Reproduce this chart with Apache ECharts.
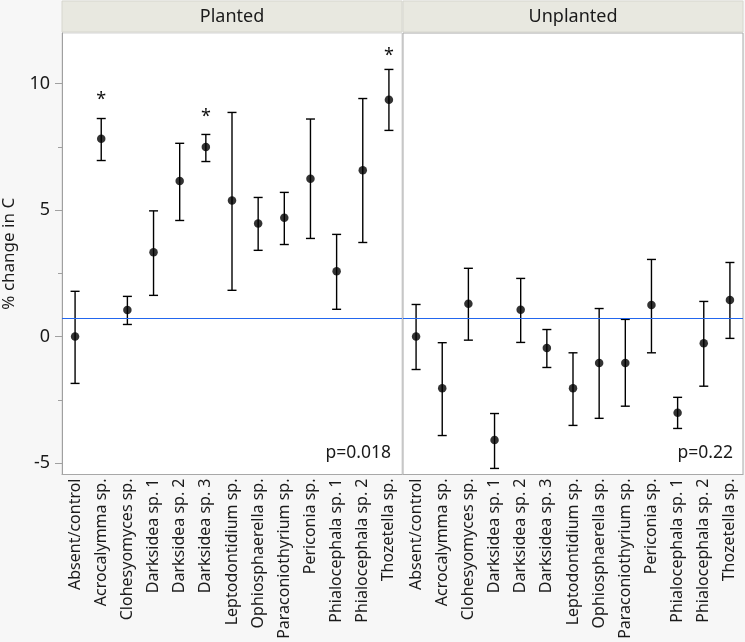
<!DOCTYPE html>
<html>
<head>
<meta charset="utf-8">
<script src="https://cdn.jsdelivr.net/npm/echarts@6/dist/echarts.min.js"></script>
<style>
html,body{margin:0;padding:0;background:#f7f7f7;}
#chart{width:745px;height:642px;}
</style>
</head>
<body>
<div id="chart"></div>
<script>
const categories = ['Absent/control','Acrocalymma sp.','Clohesyomyces sp.','Darksidea sp. 1','Darksidea sp. 2','Darksidea sp. 3','Leptodontidium sp.','Ophiosphaerella sp.','Paraconiothyrium sp.','Periconia sp.','Phialocephala sp. 1','Phialocephala sp. 2','Thozetella sp.'];
const panels = ['Planted','Unplanted'];
const pValues = ['p=0.018','p=0.22'];

const plantedMean = [0, 7.82, 1.05, 3.33, 6.15, 7.49, 5.38, 4.47, 4.70, 6.24, 2.58, 6.58, 9.36];
const plantedLow  = [-1.85, 6.96, 0.48, 1.63, 4.59, 6.92, 1.83, 3.41, 3.64, 3.88, 1.08, 3.72, 8.15];
const plantedHigh = [1.79, 8.62, 1.59, 4.97, 7.64, 7.99, 8.86, 5.50, 5.70, 8.60, 4.04, 9.41, 10.56];

const unplantedMean = [0.00, -2.04, 1.30, -4.09, 1.06, -0.45, -2.04, -1.04, -1.04, 1.25, -3.01, -0.26, 1.45];
const unplantedLow  = [-1.30, -3.91, -0.14, -5.21, -0.23, -1.22, -3.51, -3.23, -2.75, -0.64, -3.63, -1.96, -0.07];
const unplantedHigh = [1.27, -0.24, 2.70, -3.04, 2.30, 0.28, -0.64, 1.11, 0.68, 3.05, -2.40, 1.39, 2.93];

// asterisk markers (category index, value)
const starsPlanted = [[1, 9.35], [5, 8.7], [12, 11.1]];

const refLine = 0.72;
const yMin = -5.45, yMax = 12;
const majorTicks = [-5, 0, 5, 10];
const minorTicks = [-2.5, 2.5, 7.5];

const FONT = '"Noto Sans", "Open Sans", sans-serif';

const chart = echarts.init(document.getElementById('chart'));

function errRender(params, api) {
  const x = api.value(0);
  const lo = api.coord([x, api.value(1)]);
  const hi = api.coord([x, api.value(2)]);
  const cap = 4.5;
  const style = {stroke: '#000', lineWidth: 1.4};
  return {
    type: 'group',
    children: [
      {type: 'line', shape: {x1: lo[0], y1: lo[1], x2: hi[0], y2: hi[1]}, style: style},
      {type: 'line', shape: {x1: lo[0]-cap, y1: lo[1], x2: lo[0]+cap, y2: lo[1]}, style: style},
      {type: 'line', shape: {x1: hi[0]-cap, y1: hi[1], x2: hi[0]+cap, y2: hi[1]}, style: style}
    ]
  };
}

function starRender(params, api) {
  const p = api.coord([api.value(0), api.value(1)]);
  return {
    type: 'text',
    x: p[0], y: p[1],
    style: {text: '*', fill: '#111', font: '18px ' + FONT, align: 'center', verticalAlign: 'middle'}
  };
}

const xAxisBase = (gi) => ({
  type: 'category', gridIndex: gi, data: categories, boundaryGap: true,
  axisLine: {show: true, onZero: false, lineStyle: {color: '#a8a8a8'}},
  axisTick: {show: false},
  axisLabel: {rotate: 90, interval: 0, margin: 4, color: '#1a1a1a', fontSize: 16, fontFamily: FONT}
});

const option = {
  backgroundColor: '#f7f7f7',
  animation: false,
  grid: [
    {left: 62, top: 33, width: 340, bottom: 167.5, containLabel: false, outerBoundsMode: 'none', show: true, backgroundColor: '#fff', borderColor: '#d4d4d4', borderWidth: 1},
    {left: 403, top: 33, width: 340, bottom: 167.5, containLabel: false, outerBoundsMode: 'none', show: true, backgroundColor: '#fff', borderColor: '#a8a8a8', borderWidth: 1}
  ],
  xAxis: [xAxisBase(0), xAxisBase(1)],
  yAxis: [
    {type: 'value', gridIndex: 0, min: yMin, max: yMax, position: 'left',
     name: '% change in C', nameLocation: 'middle', nameGap: 44, nameRotate: 90,
     nameTextStyle: {color: '#1a1a1a', fontSize: 17, fontFamily: FONT},
     axisLine: {show: true, lineStyle: {color: '#a0a0a0'}},
     axisTick: {show: true, length: 7, customValues: majorTicks, lineStyle: {color: '#a0a0a0'}},
     axisLabel: {customValues: majorTicks, color: '#1a1a1a', fontSize: 18, fontFamily: FONT, margin: 12},
     splitLine: {show: false}},
    {type: 'value', gridIndex: 0, min: yMin, max: yMax, position: 'left', offset: 0,
     axisLine: {show: false},
     axisTick: {show: true, length: 4, customValues: minorTicks, lineStyle: {color: '#a0a0a0'}},
     axisLabel: {show: false}, splitLine: {show: false}},
    {type: 'value', gridIndex: 1, min: yMin, max: yMax, show: false, splitLine: {show: false}}
  ],
  series: [
    {type: 'custom', xAxisIndex: 0, yAxisIndex: 0, renderItem: errRender, z: 2,
     data: categories.map((c, i) => [i, plantedLow[i], plantedHigh[i]])},
    {type: 'scatter', xAxisIndex: 0, yAxisIndex: 0, symbolSize: 8.5, itemStyle: {color: '#000'}, z: 3,
     data: categories.map((c, i) => [i, plantedMean[i]]),
     markLine: {silent: true, symbol: 'none', label: {show: false}, lineStyle: {color: '#2266ee', width: 1.2, type: 'solid'}, data: [{yAxis: refLine}]}},
    {type: 'custom', xAxisIndex: 0, yAxisIndex: 0, renderItem: starRender, z: 4, data: starsPlanted},
    {type: 'custom', xAxisIndex: 1, yAxisIndex: 2, renderItem: errRender, z: 2,
     data: categories.map((c, i) => [i, unplantedLow[i], unplantedHigh[i]])},
    {type: 'scatter', xAxisIndex: 1, yAxisIndex: 2, symbolSize: 8.5, itemStyle: {color: '#000'}, z: 3,
     data: categories.map((c, i) => [i, unplantedMean[i]]),
     markLine: {silent: true, symbol: 'none', label: {show: false}, lineStyle: {color: '#2266ee', width: 1.2, type: 'solid'}, data: [{yAxis: refLine}]}}
  ],
  graphic: [
    {type: 'rect', shape: {x: 62, y: 1, width: 340, height: 31}, style: {fill: '#e8e8e0', stroke: '#d6d6ce', lineWidth: 1}},
    {type: 'rect', shape: {x: 403, y: 1, width: 340, height: 31}, style: {fill: '#e8e8e0', stroke: '#d6d6ce', lineWidth: 1}},
    {type: 'text', x: 232, y: 17, style: {text: panels[0], font: '18px ' + FONT, fill: '#1a1a1a', align: 'center', verticalAlign: 'middle'}},
    {type: 'text', x: 573, y: 17, style: {text: panels[1], font: '18px ' + FONT, fill: '#1a1a1a', align: 'center', verticalAlign: 'middle'}},
    {type: 'text', x: 391, y: 453, style: {text: pValues[0], font: '17.5px ' + FONT, fill: '#1a1a1a', align: 'right', verticalAlign: 'middle'}},
    {type: 'text', x: 733, y: 453, style: {text: pValues[1], font: '17.5px ' + FONT, fill: '#1a1a1a', align: 'right', verticalAlign: 'middle'}}
  ]
};
chart.setOption(option);
</script>
</body>
</html>
